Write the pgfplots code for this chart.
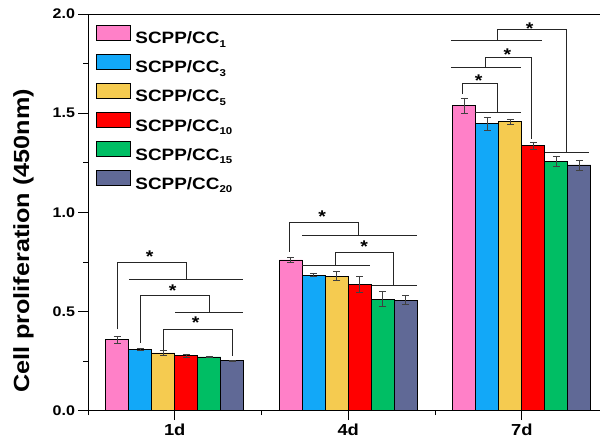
\documentclass[border=0pt]{standalone}
\usepackage{fontspec}
\setmainfont{Liberation Sans}[FakeStretch=1.15]
\usepackage{pgfplots}
\pgfplotsset{compat=1.18}

\definecolor{cPink}{HTML}{FF80C8}
\definecolor{cBlue}{HTML}{12A8F8}
\definecolor{cYel}{HTML}{F5CB50}
\definecolor{cRed}{HTML}{FF0000}
\definecolor{cGrn}{HTML}{00BE64}
\definecolor{cPur}{HTML}{606996}
\tikzset{sigstar/.style={font=\bfseries\fontsize{17}{17}\selectfont, inner sep=0pt, anchor=center, yshift=-3.5bp}}
\newcommand{\sub}[1]{\raisebox{-3.5bp}{\fontsize{10}{10}\selectfont #1}}

\begin{document}
\begin{tikzpicture}
\begin{axis}[
    scale only axis,
    width=512bp, height=396.7bp,
    xmin=0.5, xmax=3.451, ymin=0, ymax=2,
    axis x line*=bottom, axis y line*=left,
    axis line style={-, line width=0.9bp, black},
    ybar=0pt, bar width=23bp,
    xtick={1,2,3}, xticklabels={1d,4d,7d},
    minor xtick={0.5,1.5,2.5},
    ytick={0,0.5,1,1.5,2}, minor ytick={0.25,0.75,1.25,1.75},
    tick align=outside, major tick length=9.5bp, minor tick length=4.5bp,
    tick style={black, line width=0.8bp},
    xticklabel style={font=\bfseries\fontsize{16}{16}\selectfont},
    yticklabel style={font=\bfseries\fontsize{14}{14}\selectfont,
        /pgf/number format/.cd, fixed, fixed zerofill, precision=1, assume math mode=true},
    ylabel={Cell proliferation (450nm)},
    ylabel style={font=\bfseries\fontsize{22}{22}\selectfont, at={(axis description cs:-0.126,0.428)}, anchor=center},
    every axis plot/.append style={draw=black, line width=0.8bp,
        error bars/y dir=both, error bars/y explicit,
        error bars/error bar style={line width=0.6bp, black!75},
        error bars/error mark options={rotate=90, mark size=3.5bp, line width=0.6bp, black!75}},
    legend image code/.code={\draw[#1, draw=black, line width=0.8bp] (0bp,-1.8bp) rectangle (33.5bp,13.5bp);},
    legend cell align=left,
    legend style={at={(0,1)}, anchor=north west, xshift=8bp, yshift=-10.5bp,
        draw=none, fill=none, inner sep=0pt, row sep=6.5bp,
        /tikz/every odd column/.append style={column sep=3bp},
        font=\bfseries\fontsize{16.5}{16.5}\selectfont},
]
\addplot[fill=cPink] coordinates {(1,0.357) +- (0,0.018) (2,0.760) +- (0,0.012) (3,1.537) +- (0,0.040)};
\addplot[fill=cBlue] coordinates {(1,0.311) +- (0,0.006) (2,0.684) +- (0,0.008) (3,1.446) +- (0,0.034)};
\addplot[fill=cYel]  coordinates {(1,0.291) +- (0,0.012) (2,0.679) +- (0,0.024) (3,1.456) +- (0,0.012)};
\addplot[fill=cRed]  coordinates {(1,0.278) +- (0,0.008) (2,0.637) +- (0,0.040) (3,1.335) +- (0,0.018)};
\addplot[fill=cGrn]  coordinates {(1,0.271) +- (0,0.004) (2,0.563) +- (0,0.038) (3,1.258) +- (0,0.025)};
\addplot[fill=cPur]  coordinates {(1,0.253) +- (0,0.002) (2,0.558) +- (0,0.022) (3,1.239) +- (0,0.025)};
\legend{SCPP/CC\sub{1}, SCPP/CC\sub{3}, SCPP/CC\sub{5},
        SCPP/CC\sub{10}, SCPP/CC\sub{15}, SCPP/CC\sub{20}}

% top border
\draw[line width=0.9bp] (rel axis cs:0,1) -- (rel axis cs:1,1);

% significance brackets
\begin{scope}[line width=0.9bp, black!85]
% 1d
\draw (0.669,0.410) |- (1.066,0.746) -- (1.066,0.663);
\draw (0.735,0.663) -- (1.392,0.663);
\draw (0.801,0.343) |- (1.199,0.583) -- (1.199,0.494);
\draw (1.004,0.494) -- (1.392,0.494);
\draw (0.934,0.306) |- (1.331,0.412) -- (1.331,0.276);
% 4d
\draw (1.663,0.802) |- (2.061,0.948) -- (2.061,0.882);
\draw (1.734,0.882) -- (2.397,0.882);
\draw (1.734,0.730) -- (2.128,0.730);
\draw (1.926,0.730) |- (2.262,0.797) -- (2.262,0.629);
\draw (2.137,0.629) -- (2.397,0.629);
% 7d
\draw (2.658,1.597) |- (2.860,1.648) -- (2.860,1.503);
\draw (2.729,1.503) -- (2.993,1.503);
\draw (2.591,1.732) -- (2.993,1.732);
\draw (2.791,1.732) |- (3.056,1.782) -- (3.056,1.369);
\draw (2.591,1.866) -- (3.119,1.866);
\draw (2.858,1.866) |- (3.258,1.920) -- (3.258,1.301);
\draw (3.133,1.301) -- (3.388,1.301);
\end{scope}
\node[sigstar] at (0.856,0.795) {*};
\node[sigstar] at (0.988,0.625) {*};
\node[sigstar] at (1.121,0.462) {*};
\node[sigstar] at (1.849,0.995) {*};
\node[sigstar] at (2.091,0.844) {*};
\node[sigstar] at (2.752,1.681) {*};
\node[sigstar] at (2.918,1.814) {*};
\node[sigstar] at (3.046,1.945) {*};
\end{axis}
\pgfresetboundingbox
\path[use as bounding box] ([shift={(-88bp,-35.3bp)}]current axis.south west)
    rectangle ([shift={(0bp,14bp)}]current axis.north east);
\end{tikzpicture}
\end{document}
